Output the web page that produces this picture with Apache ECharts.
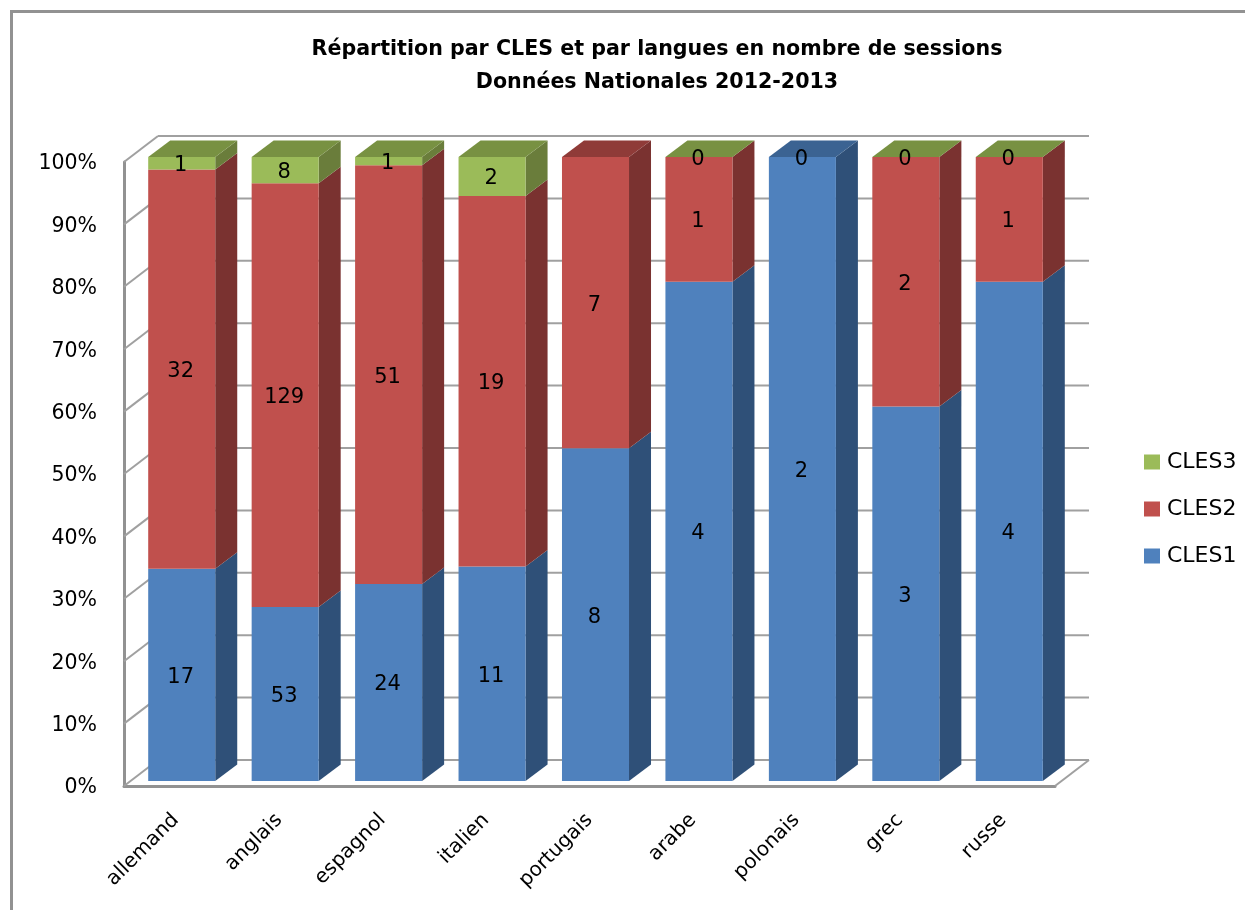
<!DOCTYPE html>
<html><head><meta charset="utf-8">
<style>html,body{margin:0;padding:0;background:#fff}#c{width:1245px;height:910px}</style>
<script src="https://cdn.jsdelivr.net/npm/echarts@6/dist/echarts.min.js"></script>
</head><body><div id="c"></div>
<script>
const categories = ['allemand','anglais','espagnol','italien','portugais','arabe','polonais','grec','russe'];
const cles1 = [17,53,24,11,8,4,2,3,4];
const cles2 = [32,129,51,19,7,1,0,2,1];
const cles3 = [1,8,1,2,null,0,null,0,0];
const topFace = [2,2,2,2,1,2,0,2,2];
const yTicks = [0,10,20,30,40,50,60,70,80,90,100];
const titleLines = ['Répartition par CLES et par langues en nombre de sessions','Données Nationales 2012-2013'];
const FONT = 'DejaVu Sans';

const palette = [
  {name:'CLES1',front:'#4F81BD',side:'#2F5078',top:'#3B6392'},
  {name:'CLES2',front:'#C0504D',side:'#7A3230',top:'#8F3B38'},
  {name:'CLES3',front:'#9BBB59',side:'#6A7D3B',top:'#789142'}
];
const raw = [cles1,cles2,cles3];
const BAR = {dx:6,dy:-5,depthX:22,depthY:-16.5,ratio:0.648};
const WALL = {dx:34,dy:-26};
const GRID = '#a0a0a0';

function rows(si){
  return categories.map((c,i)=>{
    const total = raw.reduce((a,s)=>a+(s[i]||0),0);
    let start = 0;
    for(let k=0;k<si;k++) start += (raw[k][i]||0)/total*100;
    const v = raw[si][i];
    if(v===null) return [i,start,start,-1];
    return [i,start,start+v/total*100,v];
  });
}
function renderBar(si){
  const col = palette[si];
  return function(params,api){
    const raw_v = api.value(3);
    if(raw_v<0) return null;
    const cat = api.value(0);
    const band = api.size([1,0])[0];
    const w = band*BAR.ratio;
    const a = api.coord([cat,api.value(1)]);
    const b = api.coord([cat,api.value(2)]);
    const x0 = a[0]-w/2+BAR.dx, x1 = x0+w;
    const y0 = a[1]+BAR.dy, y1 = b[1]+BAR.dy;
    const ch = [];
    if(y0-y1>0){
      ch.push({type:'polygon',shape:{points:[[x1,y0],[x1+BAR.depthX,y0+BAR.depthY],[x1+BAR.depthX,y1+BAR.depthY],[x1,y1]]},style:{fill:col.side}});
      ch.push({type:'rect',shape:{x:x0,y:y1,width:w,height:y0-y1},style:{fill:col.front}});
    }
    if(topFace[cat]===si){
      ch.push({type:'polygon',shape:{points:[[x0,y1],[x0+BAR.depthX,y1+BAR.depthY],[x1+BAR.depthX,y1+BAR.depthY],[x1,y1]]},style:{fill:col.top}});
    }
    ch.push({type:'text',z2:10,style:{x:(x0+x1)/2-1,y:(y0+y1)/2+2.5,text:String(raw_v),fill:'#000',font:'21px "'+FONT+'"',align:'center',verticalAlign:'middle'}});
    return {type:'group',children:ch};
  };
}
function renderFrame(params,api){
  const cs = params.coordSys;
  const v = api.value(0);
  const y = api.coord([0,v])[1];
  const xL = cs.x, xR = cs.x+cs.width;
  const ln = (x1,y1,x2,y2)=>({type:'line',shape:{x1,y1,x2,y2},style:{stroke:GRID,lineWidth:2}});
  const ch = [
    ln(xL,y,xL+WALL.dx,y+WALL.dy),
    ln(xL+WALL.dx,y+WALL.dy,xR+WALL.dx,y+WALL.dy)
  ];
  if(v===0) ch.push(ln(xR,y,xR+WALL.dx,y+WALL.dy));
  return {type:'group',children:ch};
}

const series = [{
  type:'custom',name:'frame',z:1,silent:true,clip:false,
  data:yTicks.map(t=>[t]),encode:{y:0},renderItem:renderFrame
}].concat(palette.map((p,si)=>({
  type:'custom',name:p.name,z:2+si,clip:false,
  itemStyle:{color:p.front},
  data:rows(si),encode:{x:0,y:[1,2]},
  renderItem:renderBar(si)
})));

const chart = echarts.init(document.getElementById('c'),null,{renderer:'canvas'});
chart.setOption({
  animation:false,
  backgroundColor:'#fff',
  title:{
    text:titleLines.join('\n'),left:652,top:28,textAlign:'center',
    textStyle:{fontFamily:FONT,fontSize:20.6,fontWeight:'bold',color:'#000',lineHeight:33}
  },
  legend:{
    orient:'vertical',left:1144,top:451,padding:0,itemWidth:16,itemHeight:15,itemGap:25,icon:'rect',
    data:['CLES3','CLES2','CLES1'],
    textStyle:{fontFamily:FONT,fontSize:22,lineHeight:20,color:'#000',padding:[0,0,0,2]},selectedMode:false
  },
  grid:{left:124,top:162,width:931,height:624,containLabel:false},
  xAxis:{
    type:'category',data:categories,
    axisLine:{lineStyle:{color:'#929292',width:3}},axisTick:{show:false},
    axisLabel:{rotate:45,margin:31,fontFamily:FONT,fontSize:20,color:'#000',interval:0}
  },
  yAxis:{
    type:'value',min:0,max:100,interval:10,
    axisLine:{show:true,lineStyle:{color:'#929292',width:3}},axisTick:{show:false},splitLine:{show:false},
    axisLabel:{margin:27,verticalAlign:'top',lineHeight:4,fontFamily:FONT,fontSize:20.5,color:'#000',formatter:'{value}%'}
  },
  graphic:[{type:'polyline',silent:true,shape:{points:[[11.5,910],[11.5,11.5],[1245,11.5]]},style:{stroke:'#929292',lineWidth:3,fill:null}}],
  series
});
</script></body></html>
